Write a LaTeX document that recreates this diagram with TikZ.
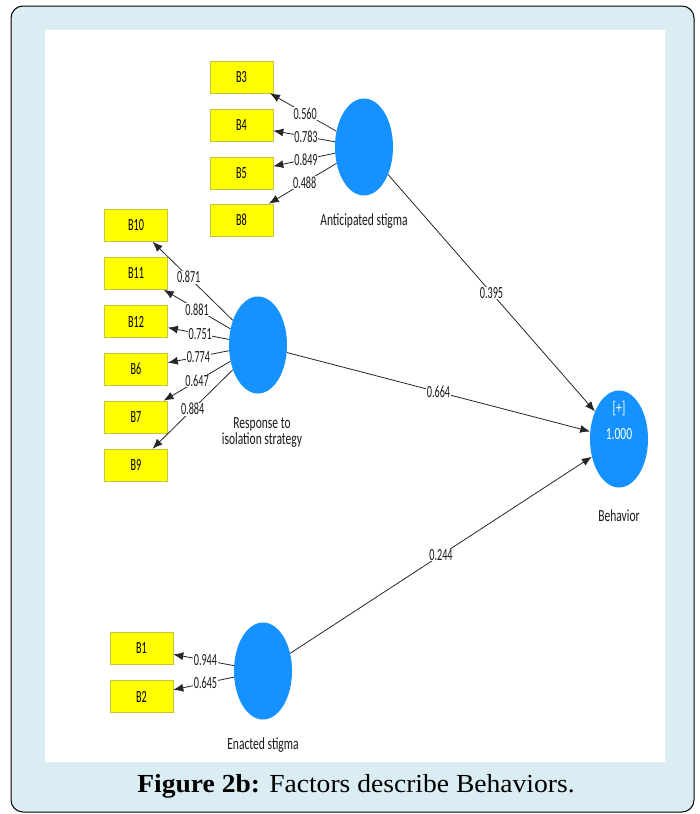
\documentclass[tikz,border=0pt]{standalone}
\usepackage{fontspec}
\setmainfont{Liberation Serif}
\newfontfamily\plsfont[FakeStretch=0.6]{Carlito}
\newfontfamily\plswide[FakeStretch=0.68]{Carlito}
\newfontfamily\capfont[FakeStretch=1.06]{Liberation Serif}
\usetikzlibrary{arrows.meta,shapes.geometric}
\definecolor{frameblue}{HTML}{D9EDF2}
\definecolor{plsblue}{HTML}{1592FF}
\definecolor{boxborder}{HTML}{C8C43A}
\definecolor{boxfill}{HTML}{FFFF00}
\tikzset{
  mbox/.style={draw=boxborder, fill=boxfill, line width=0.6pt, minimum width=63pt, minimum height=32pt, inner sep=0pt, font=\plsfont\fontsize{17}{19}\selectfont},
  latent/.style={ellipse, fill=plsblue, minimum width=58pt, minimum height=97pt, inner sep=0pt},
  lbl/.style={fill=white, inner sep=0.6pt, font=\plsfont\fontsize{17}{18}\selectfont, text=black!90},
  vlabel/.style={font=\plswide\fontsize{17}{16}\selectfont, text=black!90, align=center, inner sep=1pt},
  conn/.style={draw=black!85, line width=0.8pt, -{Latex[length=10pt,width=8pt]}}
}
\begin{document}
\begin{tikzpicture}[x=1pt,y=-1pt]
\useasboundingbox (0,0) rectangle (699,814);
\draw[rounded corners=12pt, fill=frameblue, line width=1pt] (11,6) rectangle (694,812);
\fill[white] (45,30) rectangle (665,762);

% latent variables
\node[latent] (AS) at (364,147) {};
\node[latent] (RS) at (258,345) {};
\node[latent] (ES) at (263,671) {};
\node[latent] (BE) at (619,439) {};

\node[vlabel] (ASl) at (364,221) {Anticipated stigma};
\node[vlabel] (RSl) at (262,433) {Response to\\isolation strategy};
\node[vlabel] (ESl) at (263,745) {Enacted stigma};
\node[vlabel] (BEl) at (619,516) {Behavior};
\node[vlabel, text=white] (BEp) at (619,409) {[+]};
\node[vlabel, text=white] (BEv) at (619,434) {1.000};

% indicators
\node[mbox] (B3) at (241.5,77) {B3};
\node[mbox] (B4) at (241.5,125) {B4};
\node[mbox] (B5) at (241.5,173) {B5};
\node[mbox] (B8) at (241.5,220) {B8};

\node[mbox] (B10) at (136,225.5) {B10};
\node[mbox] (B11) at (136,273.5) {B11};
\node[mbox] (B12) at (136,321.5) {B12};
\node[mbox] (B6) at (136,369) {B6};
\node[mbox] (B7) at (136,417) {B7};
\node[mbox] (B9) at (136,465) {B9};

\node[mbox] (B1) at (141.5,648.5) {B1};
\node[mbox] (B2) at (141.5,696.5) {B2};

% loadings
\draw[conn] (AS) -- node[lbl, pos=0.47] {0.560} (B3);
\draw[conn] (AS) -- node[lbl, pos=0.47] {0.783} (B4);
\draw[conn] (AS) -- node[lbl, pos=0.47] {0.849} (B5);
\draw[conn] (AS) -- node[lbl, pos=0.47] {0.488} (B8);

\draw[conn] (RS) -- node[lbl, pos=0.55] {0.871} (B10);
\draw[conn] (RS) -- node[lbl, pos=0.5] {0.881} (B11);
\draw[conn] (RS) -- node[lbl, pos=0.47] {0.751} (B12);
\draw[conn] (RS) -- node[lbl, pos=0.5] {0.774} (B6);
\draw[conn] (RS) -- node[lbl, pos=0.5] {0.647} (B7);
\draw[conn] (RS) -- node[lbl, pos=0.5] {0.884} (B9);

\draw[conn] (ES) -- node[lbl, pos=0.47] {0.944} (B1);
\draw[conn] (ES) -- node[lbl, pos=0.47] {0.645} (B2);

% paths
\draw[conn] (AS) -- node[lbl, pos=0.5] {0.395} (BE);
\draw[conn] (RS) -- node[lbl, pos=0.5] {0.664} (BE);
\draw[conn] (ES) -- node[lbl, pos=0.5] {0.244} (BE);

% caption
\node[font=\capfont\fontsize{26}{30}\selectfont] (capt) at (356,786) {\textbf{Figure 2b:} Factors describe Behaviors.};
\end{tikzpicture}
\end{document}
